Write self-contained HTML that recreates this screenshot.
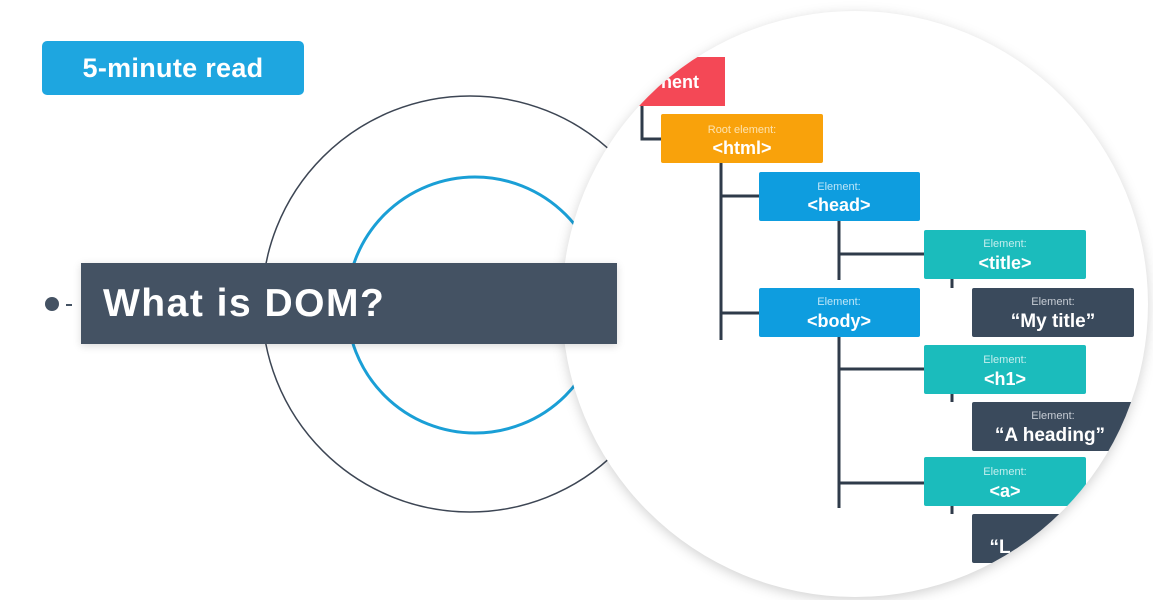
<!DOCTYPE html>
<html><head><meta charset="utf-8"><style>
html,body{margin:0;padding:0;background:#fff;}
body{width:1153px;height:600px;overflow:hidden;position:relative;font-family:"Liberation Sans",sans-serif;}
.btn{position:absolute;left:42px;top:41px;width:262px;height:54px;background:#1ea6e0;border-radius:5px;color:#fff;font-weight:bold;font-size:27px;line-height:54px;text-align:center;letter-spacing:0.3px;}
.bar{position:absolute;left:81px;top:263px;width:536px;height:81px;background:#445263;color:#fff;font-weight:bold;font-size:39px;line-height:81px;padding-left:22px;box-sizing:border-box;letter-spacing:1.5px;box-shadow:0 2px 8px rgba(0,0,0,0.15);}
.dot{position:absolute;left:45px;top:297px;width:14px;height:14px;border-radius:50%;background:#445263;}
.dash{position:absolute;left:66px;top:304px;width:6px;height:1.5px;background:#445263;}
</style></head><body>
<svg width="1153" height="600" style="position:absolute;left:0;top:0">
<defs>
<clipPath id="c"><circle cx="855" cy="304" r="293"/></clipPath>
<filter id="sh" x="-20%" y="-20%" width="140%" height="140%"><feGaussianBlur stdDeviation="6"/></filter>
</defs>
<circle cx="470" cy="304" r="208" fill="none" stroke="#3d4654" stroke-width="1.5"/>
<circle cx="475" cy="305" r="128" fill="none" stroke="#1a9fd6" stroke-width="3"/>
<circle cx="855" cy="307" r="293" fill="rgba(0,0,0,0.18)" filter="url(#sh)"/>
<circle cx="855" cy="304" r="293" fill="#fff"/>
<g clip-path="url(#c)" font-family="Liberation Sans, sans-serif" text-anchor="middle" fill="#fff">
<g stroke="#2f3b4a" stroke-width="3" fill="none">
<path d="M642 106 V139 H661"/>
<path d="M721 163 V340 M721 196 H759 M721 313 H759"/>
<path d="M839 221 V280 M839 254 H924"/>
<path d="M839 337 V508 M839 369 H924 M839 483 H924"/>
<path d="M952 279 V288 M952 394 V402 M952 506 V514"/>
</g>
<path d="M655 57 H725 V106 H630 Z" fill="#f44856"/>
<text x="680" y="88" font-size="18" font-weight="bold">nent</text>
<rect x="661" y="114" width="162" height="49" rx="2" fill="#f9a20b"/>
<text x="742" y="133" font-size="11" fill="#fde3b0">Root element:</text>
<text x="742" y="154" font-size="18" font-weight="bold">&lt;html&gt;</text>
<rect x="759" y="172" width="161" height="49" rx="2" fill="#0e9ddf"/>
<text x="839" y="190" font-size="11" fill="#bfe6f7">Element:</text>
<text x="839" y="211" font-size="18" font-weight="bold">&lt;head&gt;</text>
<rect x="924" y="230" width="162" height="49" rx="2" fill="#1bbcbc"/>
<text x="1005" y="247" font-size="11" fill="#c4eeee">Element:</text>
<text x="1005" y="269" font-size="18" font-weight="bold">&lt;title&gt;</text>
<rect x="759" y="288" width="161" height="49" rx="2" fill="#0e9ddf"/>
<text x="839" y="305" font-size="11" fill="#bfe6f7">Element:</text>
<text x="839" y="327" font-size="18" font-weight="bold">&lt;body&gt;</text>
<rect x="972" y="288" width="162" height="49" rx="2" fill="#3a4a5c"/>
<text x="1053" y="305" font-size="11" fill="#c6ccd4">Element:</text>
<text x="1053" y="327" font-size="19" font-weight="bold">“My title”</text>
<rect x="924" y="345" width="162" height="49" rx="2" fill="#1bbcbc"/>
<text x="1005" y="363" font-size="11" fill="#c4eeee">Element:</text>
<text x="1005" y="385" font-size="18" font-weight="bold">&lt;h1&gt;</text>
<rect x="972" y="402" width="162" height="49" rx="2" fill="#3a4a5c"/>
<text x="1053" y="419" font-size="11" fill="#c6ccd4">Element:</text>
<text x="1050" y="441" font-size="19" font-weight="bold">“A heading”</text>
<rect x="924" y="457" width="162" height="49" rx="2" fill="#1bbcbc"/>
<text x="1005" y="475" font-size="11" fill="#c4eeee">Element:</text>
<text x="1005" y="497" font-size="18" font-weight="bold">&lt;a&gt;</text>
<rect x="972" y="514" width="162" height="49" rx="2" fill="#3a4a5c"/>
<text x="1000" y="553" font-size="19" font-weight="bold">“L</text>
</g>
</svg>
<div class="btn">5-minute read</div>
<div class="dot"></div><div class="dash"></div>
<div class="bar">What is DOM?</div>
</body></html>
